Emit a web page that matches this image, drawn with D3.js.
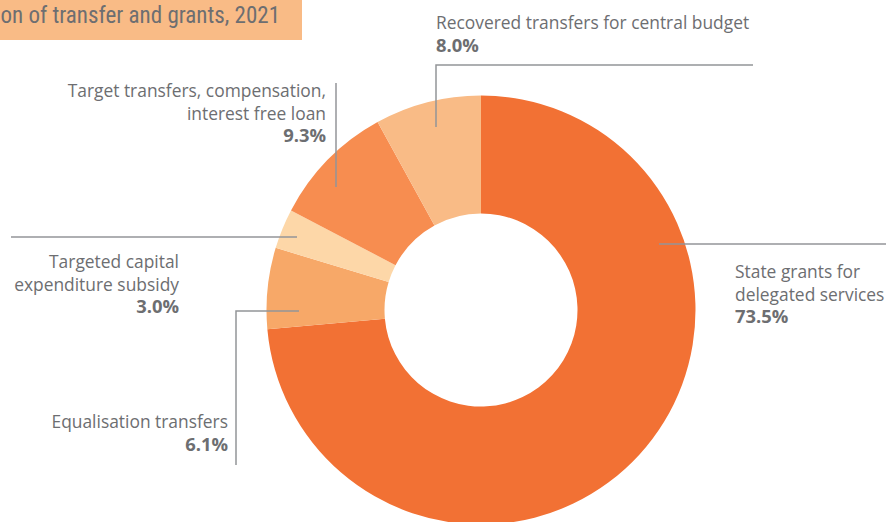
<!DOCTYPE html>
<html>
<head>
<meta charset="utf-8">
<script src="https://cdn.jsdelivr.net/npm/d3@7"></script>
<style>
  html, body { margin: 0; padding: 0; background: #ffffff; }
  svg { display: block; }
</style>
</head>
<body>
<svg id="chart" width="889" height="522"></svg>
<script>
// ---- data ----
const categories = [
  "State grants for delegated services",
  "Equalisation transfers",
  "Targeted capital expenditure subsidy",
  "Target transfers, compensation, interest free loan",
  "Recovered transfers for central budget"
];
const shares = [73.5, 6.1, 3.0, 9.3, 8.0];
const labelLines = [
  ["State grants for", "delegated services"],
  ["Equalisation transfers"],
  ["Targeted capital", "expenditure subsidy"],
  ["Target transfers, compensation,", "interest free loan"],
  ["Recovered transfers for central budget"]
];
const titleText = "Composition of transfer and grants, 2021";

// ---- styles / layout ----
const colors = ["#F27134", "#F7A868", "#FDD7A8", "#F78D50", "#F9BB86"];
const textColor = "#6D6E71";
const lineColor = "#939598";
const cx = 481, cy = 310, outerR = 214.5, innerR = 96.5;

// label layout: text anchor, first baseline, leader polyline
const layout = [
  { x: 735, y: 278, anchor: "start", leader: [[659, 244], [886, 244]] },
  { x: 228, y: 428, anchor: "end",   leader: [[299, 311], [236, 311], [236, 465]] },
  { x: 179, y: 268, anchor: "end",   leader: [[297, 237], [11, 237]] },
  { x: 326, y: 97,  anchor: "end",   leader: [[336, 187], [336, 83]] },
  { x: 436, y: 29,  anchor: "start", leader: [[436, 127], [436, 65], [753, 65]] }
];
const lineH = 22.5;

const svg = d3.select("#chart");

// title band
svg.append("rect").attr("x", 0).attr("y", 0).attr("width", 302).attr("height", 40)
  .attr("fill", "#F9BB86");
svg.append("text").attr("x", 280).attr("y", 23).attr("text-anchor", "end")
  .attr("font-family", "'Liberation Sans Narrow', 'Roboto Condensed', 'DejaVu Sans Condensed', sans-serif")
  .attr("font-size", 23).attr("fill", textColor)
  .text(titleText);

// donut
const pie = d3.pie().sort(null).value(d => d)
  .startAngle(0).endAngle(2 * Math.PI);
const arc = d3.arc().innerRadius(innerR).outerRadius(outerR);
const g = svg.append("g").attr("transform", `translate(${cx},${cy})`);
g.selectAll("path").data(pie(shares)).enter().append("path")
  .attr("d", arc)
  .attr("fill", (d, i) => colors[i]);

// leaders
const line = d3.line();
svg.selectAll("path.leader").data(layout).enter().append("path")
  .attr("class", "leader")
  .attr("d", d => line(d.leader))
  .attr("fill", "none").attr("stroke", lineColor).attr("stroke-width", 1.5);

// labels
const fmt = d3.format(".1f");
layout.forEach((L, i) => {
  const t = svg.append("text")
    .attr("x", L.x).attr("y", L.y)
    .attr("text-anchor", L.anchor)
    .attr("font-family", "'Open Sans', sans-serif")
    .attr("font-size", 17.4)
    .attr("fill", textColor);
  labelLines[i].forEach((s, k) => {
    t.append("tspan").attr("x", L.x).attr("dy", k === 0 ? 0 : lineH).text(s);
  });
  t.append("tspan").attr("x", L.x).attr("dy", lineH)
    .attr("font-weight", "bold").attr("font-size", 18.4)
    .text(fmt(shares[i]) + "%");
});
</script>
</body>
</html>
